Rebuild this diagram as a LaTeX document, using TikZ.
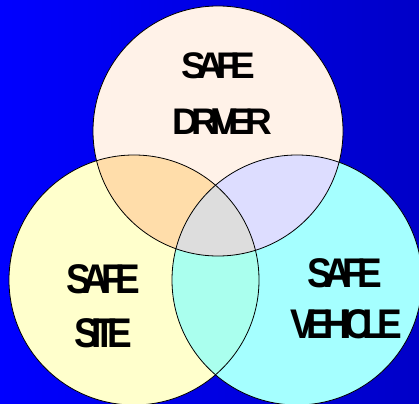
\documentclass[tikz,border=0pt]{standalone}
\usepackage{fontspec}
\setmainfont{Liberation Sans}[LetterSpace=-22]
\definecolor{bgL}{HTML}{0000FF}
\definecolor{bgR}{HTML}{0000C8}
\definecolor{cTop}{HTML}{FFF2E8}
\definecolor{cLeft}{HTML}{FFFFCC}
\definecolor{cRight}{HTML}{A5FFFF}
\definecolor{cTL}{HTML}{FFDDAA}
\definecolor{cTR}{HTML}{DDDDFF}
\definecolor{cLR}{HTML}{AAFFEE}
\definecolor{cMid}{HTML}{DDDDDD}
\begin{document}
\begin{tikzpicture}[x=1pt,y=-1pt,
  ring/.style={draw=black,line width=0.8pt},
  lbl/.style={anchor=base,inner sep=0pt,font=\fontsize{37}{37}\selectfont\bfseries},
  tall/.style={lbl,yscale=1.12,transform shape}]
\def\rad{125}
\coordinate (T) at (218,131);
\coordinate (L) at (134,280);
\coordinate (R) at (297,280);
\useasboundingbox (0,0) rectangle (419,403);
\shade[left color=bgL,right color=bgR] (0,0) rectangle (419,403);
\clip (0,0) rectangle (419,403);
\fill[cTop] (T) circle[radius=\rad];
\fill[cLeft] (L) circle[radius=\rad];
\fill[cRight] (R) circle[radius=\rad];
\begin{scope}
  \clip (T) circle[radius=\rad];
  \fill[cTL] (L) circle[radius=\rad];
  \fill[cTR] (R) circle[radius=\rad];
\end{scope}
\begin{scope}
  \clip (L) circle[radius=\rad];
  \fill[cLR] (R) circle[radius=\rad];
  \clip (T) circle[radius=\rad];
  \fill[cMid] (R) circle[radius=\rad];
\end{scope}
\draw[ring] (T) circle[radius=\rad];
\draw[ring] (L) circle[radius=\rad];
\draw[ring] (R) circle[radius=\rad];
\node[lbl] (t1) at (218.5,79) {SAFE};
\node[lbl] (t2) at (222.5,135) {DRIVER};
\node[tall] (l1) at (103.5,293) {SAFE};
\node[tall] (l2) at (103.5,347) {SITE};
\node[tall] (r1) at (345,287) {SAFE};
\node[tall] (r2) at (346,338) {VEHICLE};
\end{tikzpicture}
\end{document}
